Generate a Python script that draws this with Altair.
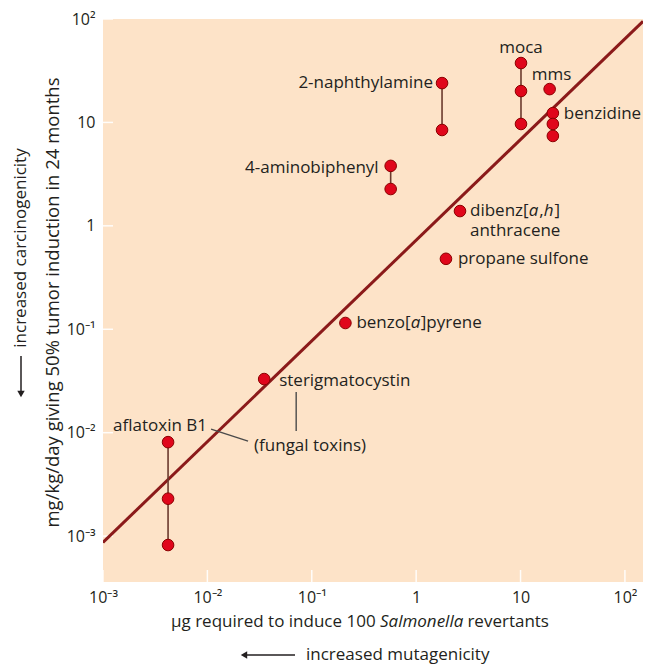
import json
import altair as alt
import pandas as pd

# ---------------- data ----------------
compounds = ["aflatoxin B1", "sterigmatocystin", "benzo[a]pyrene", "propane sulfone",
             "dibenz[a,h]anthracene", "4-aminobiphenyl", "2-naphthylamine",
             "moca", "mms", "benzidine"]
mutagenic_ug = [0.0042, 0.035, 0.21, 1.93, 2.63, 0.57, 1.77, 10.1, 19.0, 20.4]
carcinogenic_doses = [
    [0.0081, 0.0023, 0.00082],
    [0.033],
    [0.115],
    [0.48],
    [1.39],
    [3.8, 2.27],
    [24.0, 8.45],
    [37.5, 20.1, 9.66],
    [21.0],
    [12.3, 9.66, 7.4],
]
fit_x = [0.001, 149.0]
fit_y = [0.00087, 95.0]
decades = [0.001, 0.01, 0.1, 1, 10, 100]
decade_labels = ["10⁻³", "10⁻²", "10⁻¹", "1", "10", "10²"]
x_domain = [0.001, 149.0]
y_domain = [0.00036, 100.0]

y_title = "mg/kg/day giving 50% tumor induction in 24 months"
x_title_parts = ["µg required to induce 100", "Salmonella", "revertants"]
x_note = "increased mutagenicity"
y_note = "increased carcinogenicity"
fungal_note = "(fungal toxins)"

# ---------------- tables ----------------
pts = pd.DataFrame([(c, x, y) for c, x, ys in zip(compounds, mutagenic_ug, carcinogenic_doses) for y in ys],
                   columns=["compound", "x", "y"])
spans = pd.DataFrame([(c, x, min(ys), max(ys)) for c, x, ys in zip(compounds, mutagenic_ug, carcinogenic_doses)
                      if len(ys) > 1], columns=["compound", "x", "ylo", "yhi"])
tops = pd.DataFrame([(c, x, max(ys)) for c, x, ys in zip(compounds, mutagenic_ug, carcinogenic_doses)],
                    columns=["compound", "x", "y"])
fit = pd.DataFrame({"x": fit_x, "y": fit_y})
dec = pd.DataFrame({"v": decades})

# ---------------- style ----------------
FONT = "Open Sans"
INK = "#231f20"
FS = 17
W, H = 540, 563

label_expr = json.dumps(decade_labels, ensure_ascii=False) + "[round(log(datum.value)/LN10)+3]"
x_axis = alt.Axis(values=decades, labelExpr=label_expr, grid=False, ticks=False, tickSize=0, domain=False,
                  labelFontSize=16, labelFont=FONT, labelColor=INK, labelPadding=7, labelFlush=False,
                  labelOverlap=False, title=None)
y_axis = alt.Axis(values=decades, labelExpr=label_expr, grid=False, ticks=False, tickSize=0, domain=False,
                  labelFontSize=16, labelFont=FONT, labelColor=INK, labelPadding=8, labelOverlap=False,
                  title=y_title, titleFont=FONT, titleFontSize=18.5, titleFontWeight="normal", titleColor=INK,
                  titleAngle=270, titleAlign="center", titleBaseline="middle", titleX=-51, titleY=283)
xs = alt.Scale(type="log", domain=x_domain, nice=False)
ys = alt.Scale(type="log", domain=y_domain, nice=False)


def X(f):
    return alt.X(f, type="quantitative", scale=xs, axis=x_axis)


def Y(f):
    return alt.Y(f, type="quantitative", scale=ys, axis=y_axis)


layers = []

# inner white decade ticks
layers.append(alt.Chart(dec).mark_rule(color="white", strokeWidth=1.5, opacity=0.9)
              .encode(x=X("v"), y=alt.value(H), y2=alt.value(H - 12)))
layers.append(alt.Chart(dec).mark_rule(color="white", strokeWidth=1.5, opacity=0.9)
              .encode(y=Y("v"), x=alt.value(0), x2=alt.value(10)))

# regression line
layers.append(alt.Chart(fit).mark_line(color="#8b1a1a", strokeWidth=3, clip=True)
              .encode(x=X("x"), y=Y("y")))

# connectors between replicate points
layers.append(alt.Chart(spans).mark_rule(color="#6b3a2e", strokeWidth=1.6)
              .encode(x=X("x"), y=Y("ylo"), y2="yhi"))

# fungal toxin callouts
afla = alt.Chart(tops).transform_filter(alt.datum.compound == "aflatoxin B1")
ster = alt.Chart(tops).transform_filter(alt.datum.compound == "sterigmatocystin")
layers.append(afla.mark_rule(color="#4a4a4a", strokeWidth=1.4, xOffset=43, x2Offset=80, yOffset=-13, y2Offset=-1)
              .encode(x=X("x"), x2="x", y=Y("y"), y2="y"))
layers.append(ster.mark_rule(color="#4a4a4a", strokeWidth=1.4, xOffset=32, yOffset=13, y2Offset=52)
              .encode(x=X("x"), y=Y("y"), y2="y"))
layers.append(afla.mark_text(font=FONT, fontSize=FS, color=INK, align="left", baseline="middle",
                             dx=86, dy=4, text=fungal_note)
              .encode(x=X("x"), y=Y("y")))

# points
layers.append(alt.Chart(pts).mark_circle(size=135, color="#e0061b", stroke="#8b0000", strokeWidth=1, opacity=1)
              .encode(x=X("x"), y=Y("y")))

# plain labels
plain = {
    "moca": dict(dx=0, dy=-15, align="center"),
    "mms": dict(dx=2, dy=-14, align="center"),
    "benzidine": dict(dx=11, dy=1, align="left"),
    "2-naphthylamine": dict(dx=-9, dy=0, align="right"),
    "4-aminobiphenyl": dict(dx=-12, dy=2, align="right"),
    "propane sulfone": dict(dx=12, dy=0, align="left"),
    "sterigmatocystin": dict(dx=15, dy=2, align="left"),
    "aflatoxin B1": dict(dx=39, dy=-16, align="right"),
}
for name, st in plain.items():
    layers.append(alt.Chart(tops).transform_filter(alt.datum.compound == name)
                  .mark_text(font=FONT, fontSize=FS, color=INK, baseline="middle", **st)
                  .encode(x=X("x"), y=Y("y"), text="compound:N"))

# labels with italic parts
pieces = {
    "dibenz[a,h]anthracene": [("dibenz[", False, 10, 0), ("a", True, 68.8, 0), (",", False, 79.2, 0),
                              ("h", True, 83.8, 0), ("]", False, 94.6, 0), ("anthracene", False, 10, 20)],
    "benzo[a]pyrene": [("benzo[", False, 11, 0), ("a", True, 65.3, 0), ("]pyrene", False, 75.4, 0)],
}
for name, plist in pieces.items():
    for txt, ital, dx, dy in plist:
        layers.append(alt.Chart(tops).transform_filter(alt.datum.compound == name)
                      .mark_text(font=FONT, fontSize=FS, color=INK, baseline="middle", align="left",
                                 fontStyle="italic" if ital else "normal", dx=dx, dy=dy, text=txt)
                      .encode(x=X("x"), y=Y("y")))

# x-axis title (with italic Salmonella) and notes outside the plot
one = pd.DataFrame({"k": [0]})
sal_left, sal_w, gap = 277, 83, 4.4
layers.append(alt.Chart(one).mark_text(font=FONT, fontSize=FS, color=INK, align="right", baseline="middle",
                                       text=x_title_parts[0])
              .encode(x=alt.value(sal_left - gap), y=alt.value(603)))
layers.append(alt.Chart(one).mark_text(font=FONT, fontSize=FS, color=INK, align="left", baseline="middle",
                                       fontStyle="italic", text=x_title_parts[1])
              .encode(x=alt.value(sal_left), y=alt.value(603)))
layers.append(alt.Chart(one).mark_text(font=FONT, fontSize=FS, color=INK, align="left", baseline="middle",
                                       text=x_title_parts[2])
              .encode(x=alt.value(sal_left + sal_w + gap), y=alt.value(603)))

layers.append(alt.Chart(one).mark_text(font=FONT, fontSize=FS, color=INK, align="left", baseline="middle",
                                       text=x_note)
              .encode(x=alt.value(203), y=alt.value(636)))
layers.append(alt.Chart(one).mark_rule(color=INK, strokeWidth=1.5)
              .encode(x=alt.value(140), x2=alt.value(192), y=alt.value(636)))
layers.append(alt.Chart(one).mark_point(shape="triangle-left", filled=True, color=INK, size=55, opacity=1)
              .encode(x=alt.value(141), y=alt.value(636)))

layers.append(alt.Chart(one).mark_text(font=FONT, fontSize=FS, color=INK, align="center", baseline="middle",
                                       angle=270, text=y_note)
              .encode(x=alt.value(-82), y=alt.value(229)))
layers.append(alt.Chart(one).mark_rule(color=INK, strokeWidth=1.5)
              .encode(x=alt.value(-82), y=alt.value(337), y2=alt.value(376)))
layers.append(alt.Chart(one).mark_point(shape="triangle-down", filled=True, color=INK, size=55, opacity=1)
              .encode(x=alt.value(-82), y=alt.value(375)))

chart = alt.layer(*layers).properties(
    width=W, height=H,
    autosize=alt.AutoSizeParams(type="none"),
    padding={"left": 95, "top": 11, "right": 3, "bottom": 85},
    background="white",
).configure_view(fill="#fde3c8", stroke=None)

chart.save("out.html", embed_options={"renderer": "svg", "actions": False})
